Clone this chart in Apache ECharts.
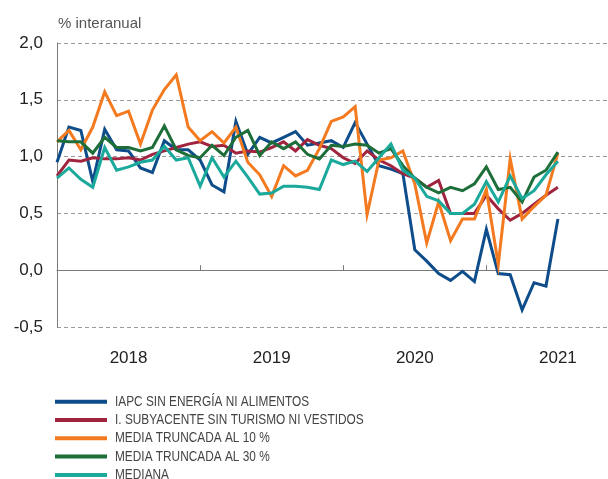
<!DOCTYPE html>
<html>
<head>
<meta charset="utf-8">
<script src="https://cdn.jsdelivr.net/npm/echarts@6/dist/echarts.min.js"></script>
<style>
  html, body { margin: 0; padding: 0; background: #fff; }
  #chart { width: 608px; height: 479px; }
</style>
</head>
<body>
<div id="chart"></div>
<script>
// Monthly year-on-year rates, January 2018 to July 2021 (index 0 = Jan 2018)
const years = ['2018', '2019', '2020', '2021'];

const iapcSinEnergia = [
  0.95, 1.26, 1.23, 0.78, 1.24, 1.06, 1.05, 0.90, 0.86, 1.14, 1.06, 1.06,
  0.97, 0.75, 0.69, 1.31, 1.02, 1.17, 1.12, 1.17, 1.22, 1.10, 1.12, 1.14,
  1.08, 1.30, 1.11, 0.92, 0.89, 0.85, 0.18, 0.08, -0.03, -0.09, -0.01, -0.10,
  0.36, -0.03, -0.04, -0.35, -0.11, -0.14, 0.45
];
const subyacente = [
  0.83, 0.97, 0.96, 0.99, 0.98, 0.98, 0.99, 0.97, 1.02, 1.05, 1.08, 1.11,
  1.13, 1.09, 1.10, 1.03, 1.05, 1.04, 1.08, 1.13, 1.05, 1.15, 1.10, 1.07,
  0.99, 0.94, 1.05, 0.97, 0.92, 0.85, 0.81, 0.73, 0.79, 0.50, 0.50, 0.50,
  0.66, 0.54, 0.44, 0.50, 0.58, 0.66, 0.73
];
const mediaTruncada10 = [
  1.13, 1.23, 1.06, 1.26, 1.57, 1.36, 1.40, 1.11, 1.41, 1.59, 1.72, 1.26,
  1.14, 1.22, 1.12, 1.26, 0.95, 0.84, 0.65, 0.92, 0.83, 0.88, 1.07, 1.31,
  1.35, 1.44, 0.49, 0.97, 0.99, 1.05, 0.76, 0.24, 0.60, 0.26, 0.45, 0.45,
  0.71, 0.05, 0.98, 0.45, 0.56, 0.66, 1.03
];
const mediaTruncada30 = [
  1.14, 1.13, 1.13, 1.03, 1.17, 1.08, 1.08, 1.05, 1.08, 1.27, 1.06, 1.01,
  0.99, 1.10, 1.01, 1.17, 1.23, 1.01, 1.13, 1.07, 1.13, 1.02, 0.98, 1.10,
  1.09, 1.11, 1.10, 1.03, 1.07, 0.92, 0.81, 0.73, 0.68, 0.73, 0.70, 0.76,
  0.91, 0.71, 0.73, 0.60, 0.82, 0.88, 1.04
];
const mediana = [
  0.81, 0.90, 0.80, 0.73, 1.08, 0.88, 0.91, 0.95, 0.97, 1.09, 0.97, 0.99,
  0.74, 0.99, 0.82, 0.96, 0.82, 0.67, 0.68, 0.74, 0.74, 0.73, 0.71, 0.97,
  0.93, 0.96, 0.87, 0.99, 1.11, 0.88, 0.81, 0.65, 0.61, 0.50, 0.50, 0.58,
  0.78, 0.60, 0.83, 0.63, 0.70, 0.84, 0.96
];

const seriesDefs = [
  { name: 'IAPC SIN ENERGÍA NI ALIMENTOS', data: iapcSinEnergia, color: '#0e4d8a' },
  { name: 'I. SUBYACENTE SIN TURISMO NI VESTIDOS', data: subyacente, color: '#a1243f' },
  { name: 'MEDIA TRUNCADA AL 10 %', data: mediaTruncada10, color: '#f47a20' },
  { name: 'MEDIA TRUNCADA AL 30 %', data: mediaTruncada30, color: '#1d6e39' },
  { name: 'MEDIANA', data: mediana, color: '#1ba99b' }
];

const lastIndex = iapcSinEnergia.length - 1;
const fmt = v => v.toFixed(1).replace('.', ',');
const baseFont = 'Liberation Sans, Arial, sans-serif';

const chart = echarts.init(document.getElementById('chart'), null, { renderer: 'canvas' });

const series = seriesDefs.map((s, k) => ({
  name: s.name,
  type: 'line',
  data: s.data.map((v, i) => [i, v]),
  symbol: 'none',
  lineStyle: { color: s.color, width: 3, join: 'miter' },
  itemStyle: { color: s.color },
  z: 3 + k,
  animation: false,
  markLine: k === 0 ? {
    silent: true,
    symbol: 'none',
    label: { show: false },
    lineStyle: { color: '#7a7a7a', width: 1, type: 'solid' },
    data: [[{ coord: [0, 0] }, { coord: [lastIndex, 0] }]],
    z: 2
  } : undefined
}));

// Legend block below the plot: a colour bar and a condensed caption per series
const legendRowTop = 401.7;
const legendRowStep = 18.3;
const legendItems = [];
seriesDefs.forEach((s, k) => {
  const cy = legendRowTop + legendRowStep * k;
  legendItems.push({
    type: 'rect',
    shape: { x: 55, y: cy - 2, width: 52, height: 4 },
    style: { fill: s.color },
    silent: true
  });
  legendItems.push({
    type: 'text',
    x: 115,
    y: cy,
    scaleX: 0.79,
    style: {
      text: s.name,
      fontSize: 15,
      fill: '#444',
      fontFamily: baseFont,
      verticalAlign: 'middle',
      align: 'left'
    },
    silent: true
  });
});

chart.setOption({
  animation: false,
  textStyle: { fontFamily: baseFont },
  graphic: [{
    type: 'text',
    left: 58,
    top: 16,
    style: { text: '% interanual', fontSize: 15, fill: '#555', fontFamily: baseFont }
  }].concat(legendItems),
  grid: { left: 57, right: 0, top: 43, bottom: 152, containLabel: false },
  xAxis: {
    type: 'value',
    min: 0,
    max: 46.2,
    axisLine: { show: true, lineStyle: { color: '#7a7a7a', width: 1 } },
    axisTick: { show: true, inside: true, length: 5, customValues: [12, 24, 36], lineStyle: { color: '#7a7a7a' } },
    axisLabel: {
      customValues: [6, 18, 30, 42],
      formatter: v => years[Math.round((v - 6) / 12)],
      fontSize: 17, color: '#222', margin: 23
    },
    splitLine: { show: false }
  },
  yAxis: {
    type: 'value',
    min: -0.5,
    max: 2.0,
    interval: 0.5,
    axisLine: { show: true, lineStyle: { color: '#7a7a7a', width: 1 } },
    axisTick: { show: false },
    axisLabel: { formatter: fmt, fontSize: 17, color: '#222', margin: 14 },
    splitLine: { show: true, lineStyle: { color: '#9a9a9a', type: [4, 3], width: 1 } }
  },
  series
});
</script>
</body>
</html>
